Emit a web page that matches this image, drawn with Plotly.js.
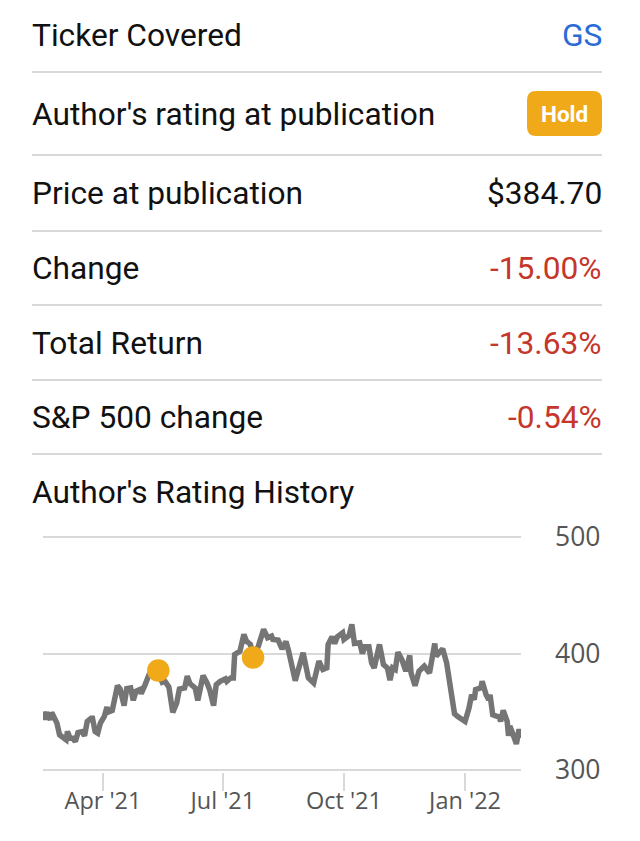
<!DOCTYPE html>
<html><head><meta charset="utf-8">
<script src="https://cdn.plot.ly/plotly-3.0.1.min.js"></script>
<style>html,body{margin:0;padding:0;background:#fff}#c{width:640px;height:841px}</style>
</head><body><div id="c"></div>
<script>
const priceDates=["2021-02-15","2021-02-16","2021-02-17","2021-02-19","2021-02-20","2021-02-21","2021-02-23","2021-02-25","2021-02-27","2021-03-02","2021-03-04","2021-03-05","2021-03-07","2021-03-09","2021-03-11","2021-03-13","2021-03-16","2021-03-18","2021-03-20","2021-03-23","2021-03-24","2021-03-26","2021-03-28","2021-03-30","2021-04-02","2021-04-04","2021-04-05","2021-04-08","2021-04-11","2021-04-12","2021-04-14","2021-04-17","2021-04-19","2021-04-22","2021-04-24","2021-04-26","2021-04-29","2021-04-30","2021-05-03","2021-05-06","2021-05-09","2021-05-13","2021-05-16","2021-05-18","2021-05-21","2021-05-24","2021-05-27","2021-05-29","2021-06-02","2021-06-04","2021-06-06","2021-06-10","2021-06-12","2021-06-16","2021-06-19","2021-06-21","2021-06-24","2021-06-26","2021-06-29","2021-07-03","2021-07-04","2021-07-07","2021-07-09","2021-07-10","2021-07-14","2021-07-17","2021-07-19","2021-07-22","2021-07-24","2021-07-28","2021-08-01","2021-08-04","2021-08-07","2021-08-08","2021-08-12","2021-08-15","2021-08-18","2021-08-20","2021-08-25","2021-08-28","2021-08-31","2021-09-04","2021-09-08","2021-09-12","2021-09-15","2021-09-18","2021-09-19","2021-09-22","2021-09-24","2021-09-26","2021-09-30","2021-10-01","2021-10-05","2021-10-07","2021-10-09","2021-10-13","2021-10-15","2021-10-17","2021-10-20","2021-10-22","2021-10-24","2021-10-28","2021-10-31","2021-11-03","2021-11-05","2021-11-07","2021-11-09","2021-11-11","2021-11-14","2021-11-17","2021-11-20","2021-11-21","2021-11-24","2021-11-27","2021-12-01","2021-12-05","2021-12-09","2021-12-10","2021-12-15","2021-12-18","2021-12-21","2021-12-24","2021-12-27","2022-01-01","2022-01-04","2022-01-06","2022-01-08","2022-01-09","2022-01-13","2022-01-14","2022-01-17","2022-01-19","2022-01-20","2022-01-22","2022-01-27","2022-01-28","2022-01-30","2022-02-02","2022-02-03","2022-02-04","2022-02-07","2022-02-09","2022-02-11","2022-02-12"];
const priceValues=[350.3,343.1,349.4,345.4,343.1,349.4,344.5,340.2,330.2,328.2,325.9,333,327.3,327.3,324.4,332.2,333,329.3,341.7,344.5,344.5,333,331.6,340.2,346,354,349.7,351.1,370.4,372.4,369.5,355.2,369.8,370.4,359.8,367.5,369,365.5,373.3,381.9,385.6,383.3,375.3,376.1,371.3,349.4,357.5,369.5,370.4,380.5,374.1,370.4,359.8,381,374.7,369,355.2,373.3,376.1,378.2,376.1,379,379,399.1,402,416.4,410.6,407.8,397.7,406.3,420.7,413.5,414.9,412.1,411.5,404,410.3,402,376.7,390.5,400.6,379,374.7,393.4,386.2,387.6,407.8,414.4,408.6,414.4,417.8,412.1,415.5,425,408.6,409.2,400,405.7,405.7,392,387.6,407.8,390.5,387.6,377,387.6,386.2,401.1,394.8,384.8,398.3,383.3,372.4,384.8,389.1,383.3,408.6,397.7,404,392,369,348.3,345.4,341.7,353.2,364.6,360.3,369,370.4,376.1,364.6,360.3,364.6,347.4,345.4,341.7,351.1,341.7,329.3,337.9,328.7,322.4,335,327.3];
const ratingDates=["2021-05-13","2021-07-24"];
const ratingValues=[385.4,396.6];
const xTickDates=["2021-04-01","2021-07-01","2021-10-01","2022-01-01"];
const xTickLabels=["Apr '21","Jul '21","Oct '21","Jan '22"];
const yTicks=[300,400,500];
const rowLabels=["Ticker Covered","Author's rating at publication","Price at publication","Change","Total Return","S&P 500 change","Author's Rating History"];
const rowValues=["GS","","$384.70","-15.00%","-13.63%","-0.54%",""];
const rowColors=["#2b6bd6","#111","#111","#c5362b","#c5362b","#c5362b","#111"];
const rowY=[35.5,114.5,193.5,268,343.5,417.5,492.5];
const ruleY=[72,155,231,305,380,454];
const W=640,H=841,GOLD="#f0a918";
const px=x=>x/W, py=y=>1-y/H;
const annotations=[], shapes=[];
rowLabels.forEach((t,i)=>{
  annotations.push({xref:'paper',yref:'paper',x:px(29.5),y:py(rowY[i]),xanchor:'left',yanchor:'middle',text:t,showarrow:false,font:{family:'Roboto',size:31.7,color:'#111'}});
  if(rowValues[i]) annotations.push({xref:'paper',yref:'paper',x:px(603.7),y:py(rowY[i]),xanchor:'right',yanchor:'middle',text:rowValues[i],showarrow:false,font:{family:'Roboto',size:31.7,color:rowColors[i]}});
});
ruleY.forEach(y=>shapes.push({type:'line',xref:'paper',yref:'paper',x0:px(32),x1:px(602),y0:py(y),y1:py(y),line:{color:'#d9d9d9',width:2}}));
const bx0=527,bx1=602,by0=91,by1=136,r=9;
shapes.push({type:'path',xref:'paper',yref:'paper',fillcolor:GOLD,line:{width:0},
 path:`M${px(bx0+r)},${py(by0)} L${px(bx1-r)},${py(by0)} Q${px(bx1)},${py(by0)} ${px(bx1)},${py(by0+r)} L${px(bx1)},${py(by1-r)} Q${px(bx1)},${py(by1)} ${px(bx1-r)},${py(by1)} L${px(bx0+r)},${py(by1)} Q${px(bx0)},${py(by1)} ${px(bx0)},${py(by1-r)} L${px(bx0)},${py(by0+r)} Q${px(bx0)},${py(by0)} ${px(bx0+r)},${py(by0)} Z`});
annotations.push({xref:'paper',yref:'paper',x:px(564.5),y:py(114),xanchor:'center',yanchor:'middle',text:'<b>Hold</b>',showarrow:false,font:{family:'Roboto',size:22.5,color:'#fff'}});
Plotly.newPlot('c',[
 {x:priceDates,y:priceValues,type:'scatter',mode:'lines',line:{color:'#757575',width:5.5,shape:'linear'},hoverinfo:'skip',cliponaxis:false},
 {x:ratingDates,y:ratingValues,type:'scatter',mode:'markers',marker:{color:GOLD,size:22.5},hoverinfo:'skip',cliponaxis:false}
],{
 width:W,height:H,margin:{l:0,r:0,t:0,b:0},paper_bgcolor:'#fff',plot_bgcolor:'#fff',showlegend:false,
 xaxis:{domain:[px(43),px(521)],type:'date',range:['2021-02-14 10:00','2022-02-12 12:00'],tickmode:'array',tickvals:xTickDates,ticktext:xTickLabels,showgrid:false,zeroline:false,showline:false,ticks:'outside',ticklen:18,tickwidth:2,tickcolor:'#d9d9d9',ticklabelstandoff:-10,tickfont:{family:'Open Sans',size:23.5,color:'#555'},anchor:'y'},
 yaxis:{domain:[py(772),py(535)],range:[298.28,501.72],side:'right',tickmode:'array',tickvals:yTicks,ticktext:yTicks.map(String),showgrid:true,gridcolor:'#d9d9d9',gridwidth:2,zeroline:false,showline:false,ticks:'',ticklabelstandoff:33,tickfont:{family:'Open Sans',size:26.5,color:'#555'},anchor:'x'},
 annotations,shapes
},{displayModeBar:false,staticPlot:true});
</script></body></html>
